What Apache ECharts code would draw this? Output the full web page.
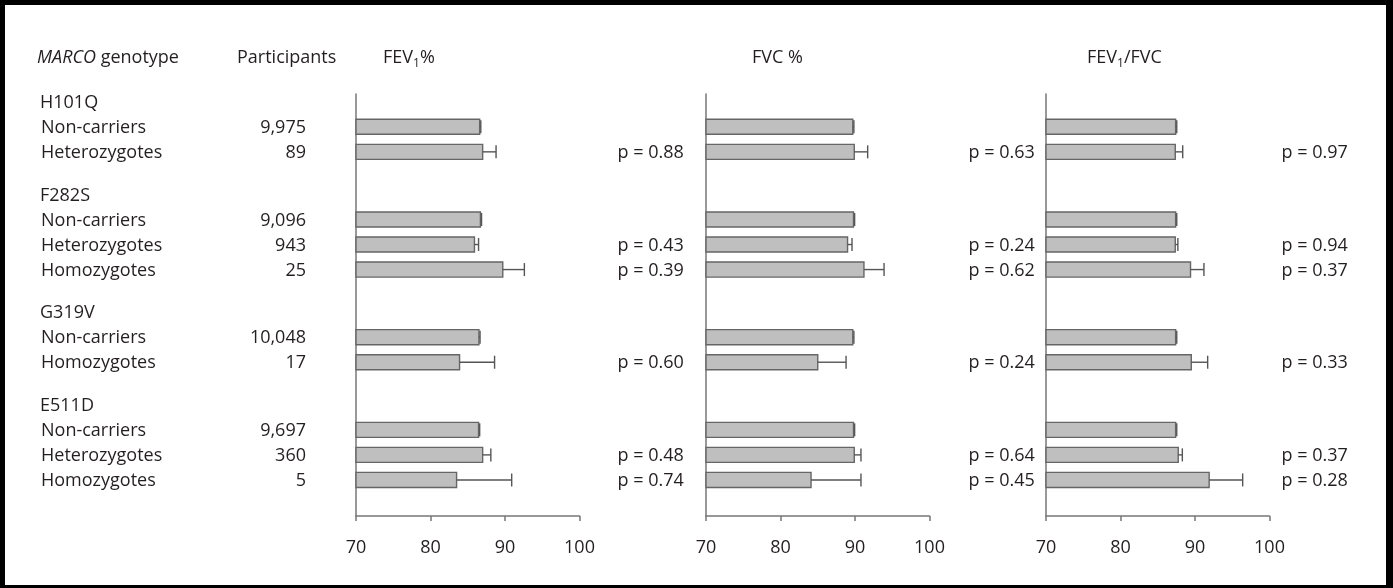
<!DOCTYPE html>
<html>
<head>
<meta charset="utf-8">
<script src="https://cdn.jsdelivr.net/npm/echarts@6/dist/echarts.min.js"></script>
<style>
  html, body { margin: 0; padding: 0; background: #fff; }
  #chart { width: 1393px; height: 588px; }
</style>
</head>
<body>
<div id="chart"></div>
<script>
// ---- data -------------------------------------------------------------
const genotypes = ['H101Q', 'F282S', 'G319V', 'E511D'];
const rowGenotype = ['H101Q', 'H101Q', 'F282S', 'F282S', 'F282S', 'G319V', 'G319V', 'E511D', 'E511D', 'E511D'];
const rowGroup = ['Non-carriers', 'Heterozygotes', 'Non-carriers', 'Heterozygotes', 'Homozygotes',
                  'Non-carriers', 'Homozygotes', 'Non-carriers', 'Heterozygotes', 'Homozygotes'];
const participants = [9975, 89, 9096, 943, 25, 10048, 17, 9697, 360, 5];

const fev1Mean = [86.6, 87.0, 86.7, 85.9, 89.7, 86.5, 83.9, 86.45, 87.0, 83.5];
const fev1Err  = [0.15, 1.8, 0.15, 0.55, 2.9, 0.15, 4.7, 0.15, 1.1, 7.4];
const fev1P    = [null, '0.88', null, '0.43', '0.39', null, '0.60', null, '0.48', '0.74'];

const fvcMean = [89.7, 89.9, 89.8, 89.0, 91.2, 89.7, 85.0, 89.8, 89.9, 84.1];
const fvcErr  = [0.15, 1.8, 0.15, 0.6, 2.7, 0.15, 3.8, 0.15, 0.9, 6.7];
const fvcP    = [null, '0.63', null, '0.24', '0.62', null, '0.24', null, '0.64', '0.45'];

const ratioMean = [87.4, 87.35, 87.4, 87.35, 89.4, 87.4, 89.5, 87.4, 87.75, 91.9];
const ratioErr  = [0.15, 1.0, 0.15, 0.35, 1.8, 0.15, 2.2, 0.15, 0.55, 4.5];
const ratioP    = [null, '0.97', null, '0.94', '0.37', null, '0.33', null, '0.37', '0.28'];

const xTicks = [70, 80, 90, 100];

// ---- layout -----------------------------------------------------------
const FONT = 'Open Sans';
const INK = '#231f20';
const AXIS_GREY = '#777777';
const BAR_FILL = '#bfbfbf';
const BAR_EDGE = '#666666';
const X_MIN = xTicks[0], X_MAX = xTicks[xTicks.length - 1], X_STEP = xTicks[1] - xTicks[0];

const panels = [
  { mean: fev1Mean,  err: fev1Err,  p: fev1P,  left: 356,  pShift: 38 },
  { mean: fvcMean,   err: fvcErr,   p: fvcP,   left: 706,  pShift: 39 },
  { mean: ratioMean, err: ratioErr, p: ratioP, left: 1046, pShift: 12 }
];
const GRID_TOP = 94, GRID_H = 422, GRID_W = 223.5;
const Y_MIN = -0.31, Y_MAX = 16.54;
const GROUP_GAP = 1.7;       // spacing from a group's last row to the next genotype heading
const BAR_H = 0.6, CAP_H = 0.52;
const LABEL_X = 41, HEAD_X = 37, COUNT_X = 306;

// vertical slot of every row and of every genotype heading
const rowPos = [], headerPos = [];
let cursor = 0;
rowGenotype.forEach((g, i) => {
  if (i === 0 || g !== rowGenotype[i - 1]) {
    cursor = i === 0 ? 0 : cursor + GROUP_GAP;
    headerPos.push(cursor);
  }
  cursor += 1;
  rowPos.push(cursor);
});

const fmtCount = n => String(n).replace(/\B(?=(\d{3})+(?!\d))/g, ',');

function txt(text, align) {
  return {
    text, fill: INK, fontSize: 18, fontFamily: FONT,
    textAlign: align, align: align,
    textVerticalAlign: 'middle', verticalAlign: 'middle'
  };
}

// ---- axes & grids -----------------------------------------------------
const grid = [], xAxis = [], yAxis = [], series = [];

panels.forEach((pn, k) => {
  grid.push({ left: pn.left, top: GRID_TOP, width: GRID_W, height: GRID_H, outerBoundsMode: 'none' });
  xAxis.push({
    type: 'value', gridIndex: k, min: X_MIN, max: X_MAX, interval: X_STEP,
    axisLine: { show: true, onZero: false, lineStyle: { color: AXIS_GREY, width: 1.5 } },
    axisTick: { show: true, length: 5, lineStyle: { color: AXIS_GREY, width: 1.5 } },
    axisLabel: { color: INK, fontSize: 18, fontFamily: FONT, margin: 23 },
    splitLine: { show: false }
  });
  yAxis.push({
    type: 'value', gridIndex: k, inverse: true, min: Y_MIN, max: Y_MAX,
    axisLine: { show: true, onZero: false, lineStyle: { color: AXIS_GREY, width: 1.5 } },
    axisTick: { show: false }, axisLabel: { show: false }, splitLine: { show: false }
  });

  // bars with one-sided error whiskers
  series.push({
    type: 'custom', xAxisIndex: k, yAxisIndex: k, silent: true,
    encode: { x: 0, y: 1 },
    data: pn.mean.map((m, i) => [m, rowPos[i], pn.err[i]]),
    renderItem(params, api) {
      const pos = api.value(1), m = api.value(0), e = api.value(2);
      const a = api.coord([X_MIN, pos]);
      const b = api.coord([m, pos]);
      const t = api.coord([m + e, pos]);
      const h = api.size([0, BAR_H])[1];
      const c = api.size([0, CAP_H])[1];
      return {
        type: 'group', children: [
          { type: 'rect', shape: { x: a[0], y: a[1] - h / 2, width: b[0] - a[0], height: h },
            style: { fill: BAR_FILL, stroke: BAR_EDGE, lineWidth: 1.4 } },
          { type: 'line', shape: { x1: b[0], y1: b[1], x2: t[0], y2: t[1] },
            style: { stroke: '#555', lineWidth: 1.4 } },
          { type: 'line', shape: { x1: t[0], y1: t[1] - c / 2, x2: t[0], y2: t[1] + c / 2 },
            style: { stroke: '#555', lineWidth: 1.4 } }
        ]
      };
    }
  });

  // p-values to the right of each panel
  const pRows = pn.p.map((v, i) => v === null ? null : i).filter(i => i !== null);
  series.push({
    type: 'custom', xAxisIndex: k, yAxisIndex: k, silent: true,
    encode: { x: 0, y: 1 },
    data: pRows.map(i => [X_MAX, rowPos[i], i]),
    renderItem(params, api) {
      const pt = api.coord([api.value(0), api.value(1)]);
      const i = api.value(2);
      return { type: 'text', x: pt[0] + pn.pShift, y: pt[1] + 1, style: txt('p = ' + pn.p[i], 'left') };
    }
  });
});

// genotype headings
series.push({
  type: 'custom', xAxisIndex: 0, yAxisIndex: 0, silent: true,
  encode: { x: 0, y: 1 },
  data: headerPos.map(p => [X_MIN, p]),
  renderItem(params, api) {
    const y = api.coord([X_MIN, api.value(1)])[1];
    return { type: 'text', x: LABEL_X - 1, y: y + 1, style: txt(genotypes[params.dataIndex], 'left') };
  }
});

// row labels and participant counts
series.push({
  type: 'custom', xAxisIndex: 0, yAxisIndex: 0, silent: true,
  encode: { x: 0, y: 1 },
  data: rowPos.map(p => [X_MIN, p]),
  renderItem(params, api) {
    const y = api.coord([X_MIN, api.value(1)])[1] + 1;
    const i = params.dataIndex;
    return {
      type: 'group', children: [
        { type: 'text', x: LABEL_X, y, style: txt(rowGroup[i], 'left') },
        { type: 'text', x: COUNT_X, y, style: txt(fmtCount(participants[i]), 'right') }
      ]
    };
  }
});

// ---- column headings and frame ---------------------------------------
const richBase = { fontSize: 18, fontFamily: FONT, fill: INK, color: INK, lineHeight: 24 };
const richSub = { fontSize: 12, fontFamily: FONT, fill: INK, color: INK, lineHeight: 14, verticalAlign: 'bottom' };

function heading(x, text, rich) {
  return {
    type: 'text', x, y: 58, silent: true,
    style: Object.assign(txt(text, 'left'), rich ? { rich } : {})
  };
}

const graphic = [
  heading(HEAD_X, '{i|MARCO}{a| genotype}', {
    i: Object.assign({}, richBase, { fontStyle: 'italic' }), a: richBase
  }),
  heading(237, 'Participants'),
  heading(383, '{a|FEV}{s|1}{a|%}', { a: richBase, s: richSub }),
  heading(752, 'FVC %'),
  heading(1087, '{a|FEV}{s|1}{a|/FVC}', { a: richBase, s: richSub }),
  { type: 'rect', silent: true, shape: { x: 0, y: 0, width: 1393, height: 5 }, style: { fill: '#000' } },
  { type: 'rect', silent: true, shape: { x: 0, y: 0, width: 5, height: 588 }, style: { fill: '#000' } },
  { type: 'rect', silent: true, shape: { x: 1386, y: 0, width: 7, height: 588 }, style: { fill: '#000' } },
  { type: 'rect', silent: true, shape: { x: 0, y: 585, width: 1393, height: 3 }, style: { fill: '#000' } }
];

const chart = echarts.init(document.getElementById('chart'), null, { renderer: 'canvas' });
chart.setOption({
  animation: false,
  backgroundColor: '#fff',
  grid, xAxis, yAxis, series, graphic
});
</script>
</body>
</html>
